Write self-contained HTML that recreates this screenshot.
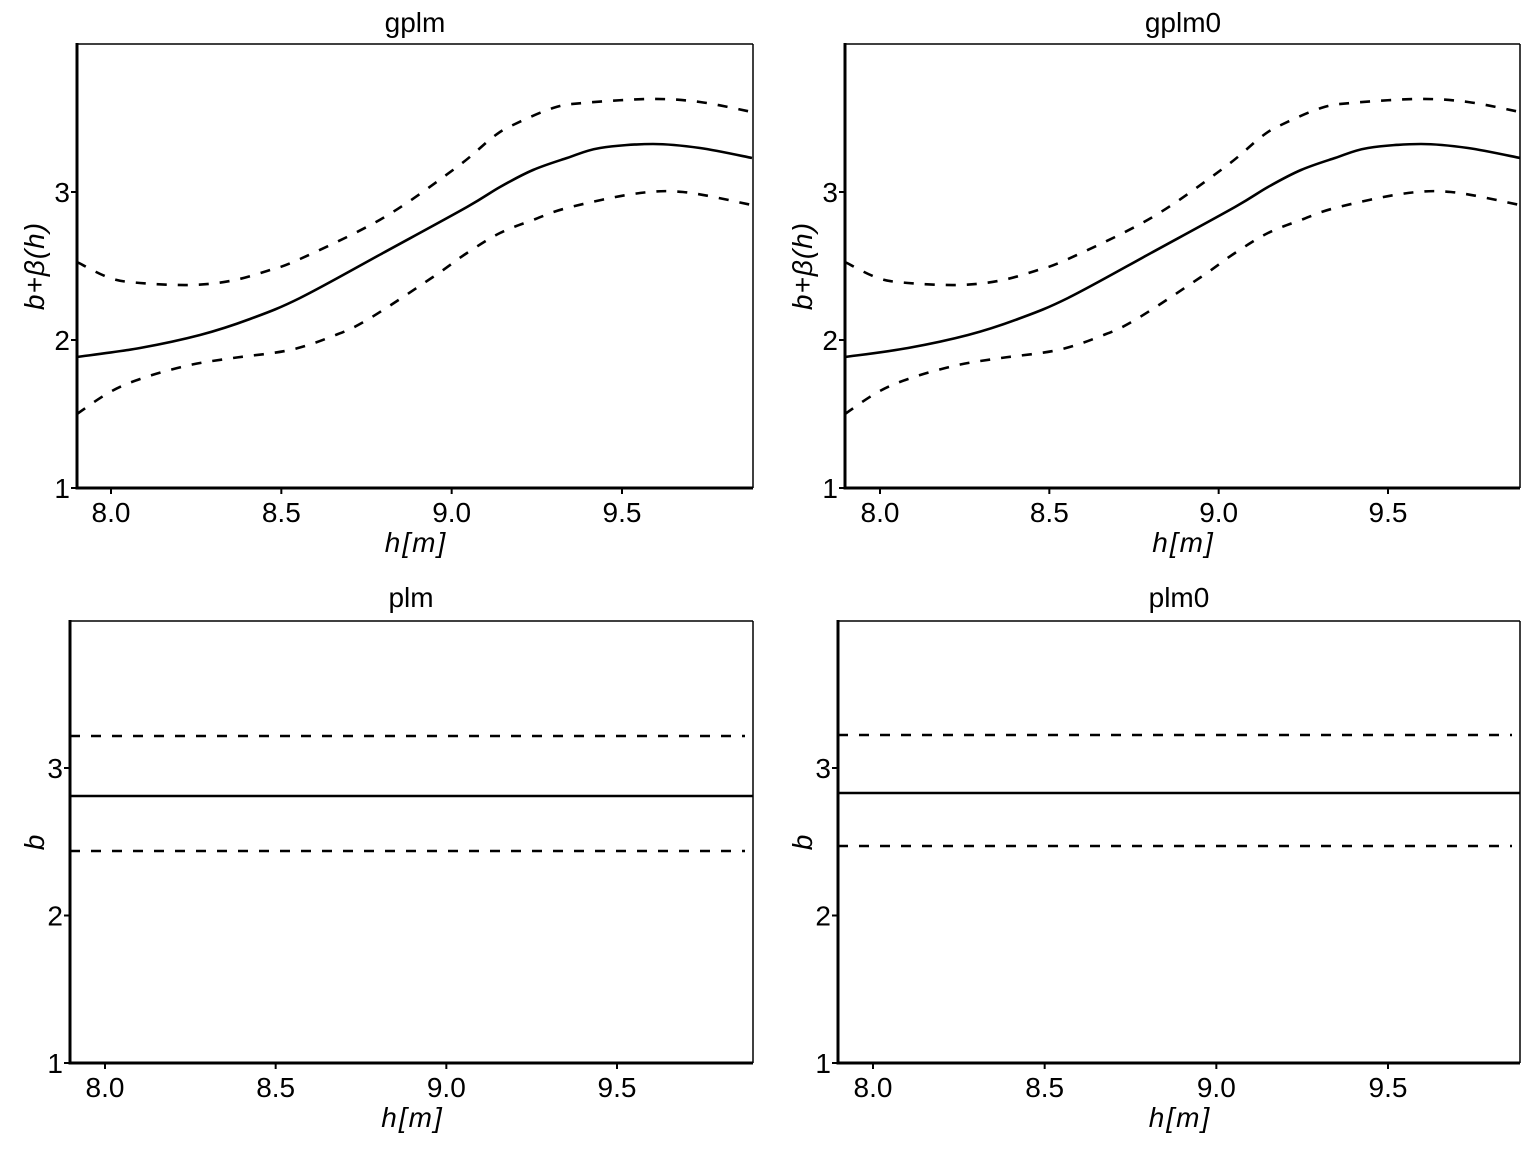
<!DOCTYPE html>
<html><head><meta charset="utf-8"><style>
html,body{margin:0;padding:0;background:#fff;}
svg text{font-family:"Liberation Sans",sans-serif;fill:#000;}
</style></head><body>
<svg id="s" width="1536" height="1152" xmlns="http://www.w3.org/2000/svg">
<rect width="1536" height="1152" fill="#fff"/>
<g style="font-size:28px">
<text x="415" y="32" text-anchor="middle">gplm</text>
<text x="1183" y="32" text-anchor="middle">gplm0</text>
<text x="411" y="607" text-anchor="middle">plm</text>
<text x="1179" y="607" text-anchor="middle">plm0</text>
</g>
<g id="g"></g>
</svg>
<script>
var g=document.getElementById('g');var h='';
function cr(p){var d='M'+p[0][0]+','+p[0][1];for(var i=0;i<p.length-1;i++){var p0=p[i-1]||p[i],p1=p[i],p2=p[i+1],p3=p[i+2]||p2;
d+=' C'+(p1[0]+(p2[0]-p0[0])/6).toFixed(1)+','+(p1[1]+(p2[1]-p0[1])/6).toFixed(1)+' '+(p2[0]-(p3[0]-p1[0])/6).toFixed(1)+','+(p2[1]-(p3[1]-p1[1])/6).toFixed(1)+' '+p2[0]+','+p2[1];}return d;}
var sol=[[77,357],[140,348],[200,335],[250,319],[300,298],[383,253],[467,207],[500,187],[533,170],[567,158],[600,148],[653,144],[700,148],[752,158]];
var up=[[77,262],[110,278],[140,283],[190,285],[230,281],[267,271],[300,259],[383,218],[457,167],[493,137],[513,125],[553,108],[583,103],[650,99],[700,102],[752,112]];
var lo=[[77,414],[110,392],[143,378],[190,365],[233,358],[290,350],[333,336],[367,320],[433,277],[467,253],[500,233],[533,220],[567,208],[633,194],[683,192],[752,205]];
function panel(x0,x1,y0,y1,x80,x95,curves){
 h+='<line x1="'+x0+'" y1="'+y0+'" x2="'+x1+'" y2="'+y0+'" stroke="#000" stroke-width="1.5"/>';
 h+='<line x1="'+x1+'" y1="'+y0+'" x2="'+x1+'" y2="'+y1+'" stroke="#000" stroke-width="1.5"/>';
 h+='<line x1="'+x0+'" y1="'+(y0-1)+'" x2="'+x0+'" y2="'+(y1+1.5)+'" stroke="#000" stroke-width="3"/>';
 h+='<line x1="'+(x0-1.5)+'" y1="'+y1+'" x2="'+x1+'" y2="'+y1+'" stroke="#000" stroke-width="3"/>';
 var yu=(y1===488)?148:147.5;
 for(var k=1;k<=3;k++){var y=y1-(k-1)*yu;h+='<line x1="'+(x0-6)+'" y1="'+y+'" x2="'+x0+'" y2="'+y+'" stroke="#000" stroke-width="2"/>';
  h+='<text x="'+(x0-7)+'" y="'+(y+10)+'" style="font-size:28px" text-anchor="end">'+k+'</text>';}
 var xs=['8.0','8.5','9.0','9.5'];for(var k=0;k<4;k++){var x=x80+(x95-x80)/3*k;
  h+='<line x1="'+x+'" y1="'+y1+'" x2="'+x+'" y2="'+(y1+6)+'" stroke="#000" stroke-width="2"/>';
  h+='<text x="'+x+'" y="'+(y1+34)+'" style="font-size:28px" text-anchor="middle">'+xs[k]+'</text>';}
 var cx=(x0+x1)/2+1;
 h+='<text x="'+cx+'" y="'+(y1+64)+'" style="font-size:28px;font-style:italic;letter-spacing:2px" text-anchor="middle">h[m]</text>';
 h+=curves;
}
function tr(p,dx){return p.map(function(q){return [q[0]+dx,q[1]];});}
function cv(dx){return '<path d="'+cr(tr(sol,dx))+'" fill="none" stroke="#000" stroke-width="2.6"/>'+
 '<path d="'+cr(tr(up,dx))+'" fill="none" stroke="#000" stroke-width="2.6" stroke-dasharray="10,11"/>'+
 '<path d="'+cr(tr(lo,dx))+'" fill="none" stroke="#000" stroke-width="2.6" stroke-dasharray="10,11"/>';}
panel(77,753,44,488,111,622,cv(0));
panel(845,1520,44,488,880,1388,cv(768));
function hl(x0,x1,a,b,c){return '<line x1="'+x0+'" y1="'+b+'" x2="'+x1+'" y2="'+b+'" stroke="#000" stroke-width="2.6"/>'+
 '<line x1="'+x0+'" y1="'+a+'" x2="'+(x1-8)+'" y2="'+a+'" stroke="#000" stroke-width="2.6" stroke-dasharray="10,11"/>'+
 '<line x1="'+x0+'" y1="'+c+'" x2="'+(x1-8)+'" y2="'+c+'" stroke="#000" stroke-width="2.6" stroke-dasharray="10,11"/>';}
panel(70,753,621,1063,105,617,hl(70,753,736,796,851));
panel(838,1520,621,1063,873,1388,hl(838,1520,735,793,846));
var ys='style="font-size:28px;font-style:italic;letter-spacing:1px" text-anchor="middle"';
h+='<text transform="translate(44,266) rotate(-90)" '+ys+'>b+β(h)</text>';
h+='<text transform="translate(812,266) rotate(-90)" '+ys+'>b+β(h)</text>';
h+='<text transform="translate(44,842) rotate(-90)" '+ys+'>b</text>';
h+='<text transform="translate(812,842) rotate(-90)" '+ys+'>b</text>';
g.innerHTML=h;
</script>
</body></html>
